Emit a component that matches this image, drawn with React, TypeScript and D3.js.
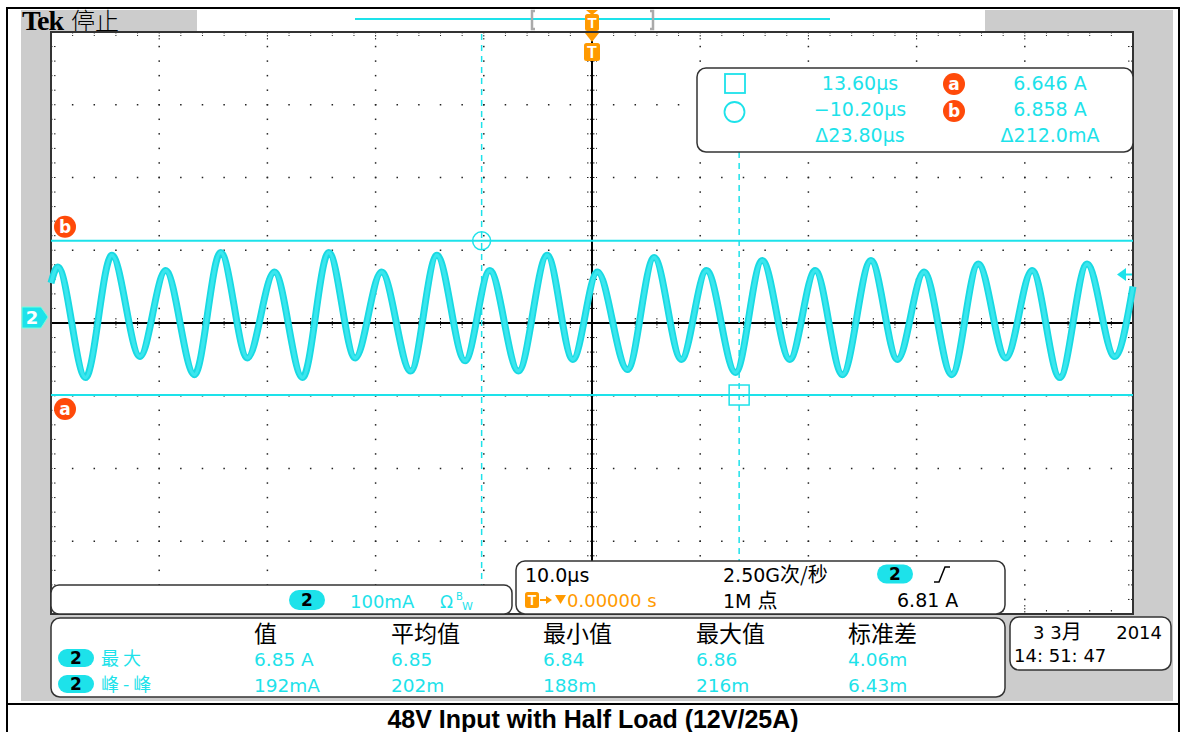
import React from 'react';
import * as d3 from 'd3';

// ---------------- data ----------------
// waveform extrema (time in µs, current in A)
const traceTimeUs = [
  -50, -49.37, -46.81, -44.38, -41.78, -39.41, -36.74, -34.32, -31.85, -29.35,
  -26.75, -24.33, -21.89, -19.45, -16.76, -14.34, -11.73, -9.45, -6.8, -4.14,
  -1.77, 0.5, 3.28, 5.74, 8.26, 10.58, 13.27, 15.73, 18.28, 20.63,
  23.15, 25.78, 28.23, 30.69, 33.25, 35.7, 38.25, 40.68, 43.23, 45.75,
  48.31, 50,
];
const traceAmpA = [
  6.8, 6.822, 6.67, 6.838, 6.699, 6.817, 6.674, 6.842, 6.697, 6.815,
  6.67, 6.842, 6.697, 6.815, 6.679, 6.838, 6.693, 6.817, 6.679, 6.838,
  6.695, 6.815, 6.681, 6.835, 6.695, 6.817, 6.677, 6.831, 6.695, 6.817,
  6.674, 6.831, 6.695, 6.815, 6.674, 6.826, 6.697, 6.817, 6.67, 6.826,
  6.699, 6.795,
];
const cursorTimesUs = [13.6, -10.2]; // square, circle
const cursorAmpsA = [6.646, 6.858]; // a, b
const cursorAmpLetters = ['a', 'b'];
const readoutTimeLabels = ['13.60µs', '−10.20µs', 'Δ23.80µs'];
const readoutAmpLabels = ['6.646 A', '6.858 A', 'Δ212.0mA'];
const measHeaders = ['值', '平均值', '最小值', '最大值', '标准差'];
const measRowLabels = ['最大', '峰-峰'];
const measRows = [
  ['6.85 A', '6.85', '6.84', '6.86', '4.06m'],
  ['192mA', '202m', '188m', '216m', '6.43m'],
];
const timeDomainUs = [-50, 50];
const ampCenterA = 6.745;
const ampPerDivA = 0.1;
const timePerDivUs = 10;
const caption = '48V Input with Half Load (12V/25A)';

// ---------------- styles ----------------
const CYAN = '#1de2ea';
const ORANGE = '#ff9a00';
const RED = '#ff4a0a';
const GREY = '#cccccc';
const SCOPE_FONT = "'DejaVu Sans', sans-serif";
const CJK_FONT = "'Noto Sans CJK SC', sans-serif";

const GX0 = 51, GX1 = 1133, GY0 = 32, GY1 = 614;

export default function App() {
  const x = d3.scaleLinear().domain(timeDomainUs).range([GX0, GX1]);
  const y = d3
    .scaleLinear()
    .domain([ampCenterA - 4 * ampPerDivA, ampCenterA + 4 * ampPerDivA])
    .range([GY1, GY0]);

  const line = d3
    .line<number>()
    .x((_, i) => x(traceTimeUs[i]))
    .y((d) => y(d))
    .curve(d3.curveMonotoneX);

  const majorT = d3.range(timeDomainUs[0], timeDomainUs[1] + 0.001, timePerDivUs);
  const minorT = d3.range(timeDomainUs[0], timeDomainUs[1] + 0.001, timePerDivUs / 5);
  const yLo = ampCenterA - 4 * ampPerDivA;
  const majorA = d3.range(0, 9).map((k) => yLo + k * ampPerDivA);
  const minorA = d3.range(0, 41).map((k) => yLo + (k * ampPerDivA) / 5);

  const dots: JSX.Element[] = [];
  majorT.slice(1, -1).forEach((t, i) => {
    if (Math.abs(t) < 1e-6) return;
    minorA.slice(1, -1).forEach((a, j) => {
      dots.push(<rect key={`v${i}-${j}`} x={x(t) - 0.75} y={y(a) - 0.75} width={1.5} height={1.5} fill="#222" />);
    });
  });
  majorA.slice(1, -1).forEach((a, i) => {
    if (Math.abs(a - ampCenterA) < 1e-6) return;
    minorT.slice(1, -1).forEach((t, j) => {
      dots.push(<rect key={`h${i}-${j}`} x={x(t) - 0.75} y={y(a) - 0.75} width={1.5} height={1.5} fill="#222" />);
    });
  });

  const ticks: JSX.Element[] = [];
  minorT.slice(1, -1).forEach((t, j) => {
    const xx = x(t);
    const major = j % 5 === 4;
    ticks.push(<line key={`tt${j}`} x1={xx} x2={xx} y1={GY0} y2={GY0 + (major ? 9 : 4)} stroke="#222" strokeWidth={1} strokeDasharray="1.5 1.5" />);
    ticks.push(<line key={`tb${j}`} x1={xx} x2={xx} y1={GY1 - (major ? 9 : 4)} y2={GY1} stroke="#222" strokeWidth={1} strokeDasharray="1.5 1.5" />);
    ticks.push(<line key={`tc${j}`} x1={xx} x2={xx} y1={y(ampCenterA) - 5} y2={y(ampCenterA) + 5} stroke="#222" strokeWidth={1} strokeDasharray="1.5 1.5" />);
  });
  minorA.slice(1, -1).forEach((a, j) => {
    const yy = y(a);
    ticks.push(<line key={`tl${j}`} x1={GX0} x2={GX0 + 5} y1={yy} y2={yy} stroke="#222" strokeWidth={1} strokeDasharray="1.5 1.5" />);
    ticks.push(<line key={`tr${j}`} x1={GX1 - 5} x2={GX1} y1={yy} y2={yy} stroke="#222" strokeWidth={1} strokeDasharray="1.5 1.5" />);
    ticks.push(<line key={`tm${j}`} x1={x(0) - 5} x2={x(0) + 5} y1={yy} y2={yy} stroke="#222" strokeWidth={1} strokeDasharray="1.5 1.5" />);
  });

  const xSq = x(cursorTimesUs[0]);
  const xCi = x(cursorTimesUs[1]);
  const yA = y(cursorAmpsA[0]);
  const yB = y(cursorAmpsA[1]);

  const pill = (cx: number, cy: number, w: number, h: number, key: string) => (
    <g key={key}>
      <rect x={cx - w / 2} y={cy - h / 2} width={w} height={h} rx={h / 2} fill={CYAN} />
      <text x={cx} y={cy + 6} textAnchor="middle" fontFamily={SCOPE_FONT} fontWeight="bold" fontSize={17} fill="#000">2</text>
    </g>
  );

  const tBox = (x0: number, y0: number, w: number, h: number) => (
    <g>
      <rect x={x0} y={y0} width={w} height={h} rx={2.5} fill={ORANGE} />
      <text x={x0 + w / 2} y={y0 + h - 3} textAnchor="middle" fontFamily="'Liberation Sans', sans-serif" fontWeight="bold" fontSize={h - 2} fill="#fff">T</text>
    </g>
  );

  const colX = [254, 391, 543, 696, 848];
  const tracePath = line(traceAmpA) || '';

  return (
    <div style={{ position: 'absolute', left: 0, top: 0 }}>
      <svg width={1186} height={732} style={{ display: 'block' }}>
        <rect x={0} y={0} width={1186} height={732} fill="#fff" />
        {/* scope screen background */}
        <rect x={21} y={10} width={1152} height={691} fill={GREY} />
        <rect x={197} y={10} width={788} height={22} fill="#fff" />
        <rect x={GX0} y={GY0} width={GX1 - GX0} height={GY1 - GY0} fill="#fff" />

        {/* header */}
        <text x={22} y={30} fontFamily="'Liberation Serif', serif" fontWeight="bold" fontSize={28} letterSpacing={-1} fill="#000">Tek</text>
        <text x={71} y={30} fontFamily={CJK_FONT} fontWeight={300} fontSize={24} fill="#000">停止</text>

        {/* trigger position bar */}
        <line x1={355} x2={830} y1={19} y2={19} stroke={CYAN} strokeWidth={2} />
        <path d="M535,11 h-3 v18 h3" fill="none" stroke="#aaa" strokeWidth={2.5} />
        <path d="M650,11 h3 v18 h-3" fill="none" stroke="#aaa" strokeWidth={2.5} />
        <path d={`M${x(0) - 6},10 L${x(0) + 6},10 L${x(0)},15 Z`} fill={ORANGE} />
        {tBox(x(0) - 7, 14, 14, 17)}

        {/* grid */}
        {dots}
        {ticks}
        <line x1={GX0} x2={GX1} y1={y(ampCenterA)} y2={y(ampCenterA)} stroke="#000" strokeWidth={2} />
        <line x1={x(0)} x2={x(0)} y1={GY0} y2={GY1} stroke="#000" strokeWidth={2} />
        <rect x={GX0} y={GY0} width={GX1 - GX0} height={GY1 - GY0} fill="none" stroke="#333" strokeWidth={2} />

        {/* trigger marker under top */}
        <path d={`M${x(0) - 7},33 L${x(0) + 7},33 L${x(0)},42 Z`} fill={ORANGE} />
        {tBox(x(0) - 8, 43, 16, 18)}

        {/* cursors */}
        <line x1={GX0} x2={GX1} y1={yB} y2={yB} stroke={CYAN} strokeWidth={2} />
        <line x1={GX0} x2={GX1} y1={yA} y2={yA} stroke={CYAN} strokeWidth={2} />
        <line x1={xCi} x2={xCi} y1={GY0 + 2} y2={GY1} stroke={CYAN} strokeWidth={1.5} strokeDasharray="6 5" />
        <line x1={xSq} x2={xSq} y1={152} y2={GY1} stroke={CYAN} strokeWidth={1.5} strokeDasharray="6 5" />

        {/* waveform */}
        <path d={tracePath} fill="none" stroke="#19d9e2" strokeWidth={7} strokeLinejoin="round" />
        <path d={tracePath} fill="none" stroke="#3ae6ee" strokeWidth={3.5} strokeLinejoin="round" />

        <circle cx={xCi} cy={yB} r={9} fill="none" stroke={CYAN} strokeWidth={1.5} />
        <rect x={xSq - 10} y={yA - 10} width={20} height={20} fill="none" stroke={CYAN} strokeWidth={1.5} />

        {/* cursor level markers */}
        {cursorAmpsA.map((a, i) => (
          <g key={`m${i}`}>
            <circle cx={65} cy={y(a) + (i === 0 ? 14 : -14)} r={11} fill={RED} />
            <text x={65} y={y(a) + (i === 0 ? 14 : -14) + 6} textAnchor="middle" fontFamily={SCOPE_FONT} fontWeight="bold" fontSize={17} fill="#fff">{cursorAmpLetters[i]}</text>
          </g>
        ))}

        {/* channel ground marker */}
        <path d="M22,307 H41 L48,317 L41,328 H22 Z" fill={CYAN} stroke="#7fd" strokeWidth={1} />
        <text x={32} y={324} textAnchor="middle" fontFamily={SCOPE_FONT} fontWeight="bold" fontSize={18} fill="#fff">2</text>

        {/* trigger level arrow */}
        <path d="M1117,274.5 L1126,268 L1126,281 Z" fill={CYAN} />
        <line x1={1126} x2={1132} y1={274.5} y2={274.5} stroke={CYAN} strokeWidth={2} />

        {/* cursor readout box */}
        <rect x={697} y={68} width={436} height={84} rx={9} fill="#fff" stroke="#333" strokeWidth={1.5} />
        <rect x={725} y={74} width={20} height={19} fill="none" stroke={CYAN} strokeWidth={1.8} />
        <circle cx={734.5} cy={112} r={10} fill="none" stroke={CYAN} strokeWidth={1.8} />
        {readoutTimeLabels.map((s, i) => (
          <text key={`rt${i}`} x={860} y={90 + i * 26} textAnchor="middle" fontFamily={SCOPE_FONT} fontSize={19} fill={CYAN}>{s}</text>
        ))}
        {readoutAmpLabels.map((s, i) => (
          <text key={`ra${i}`} x={1050} y={90 + i * 26} textAnchor="middle" fontFamily={SCOPE_FONT} fontSize={19} fill={CYAN}>{s}</text>
        ))}
        {cursorAmpLetters.map((l, i) => (
          <g key={`ri${i}`}>
            <circle cx={954} cy={84 + i * 27} r={11} fill={RED} />
            <text x={954} y={84 + i * 27 + 6} textAnchor="middle" fontFamily={SCOPE_FONT} fontWeight="bold" fontSize={17} fill="#fff">{l}</text>
          </g>
        ))}

        {/* channel readout box */}
        <rect x={51} y={585} width={461} height={29} rx={8} fill="#fff" stroke="#333" strokeWidth={1.5} />
        {pill(307, 600, 36, 20, 'p1')}
        <text x={350} y={608} fontFamily={SCOPE_FONT} fontSize={18} fill={CYAN}>100mA</text>
        <text x={440} y={608} fontFamily={SCOPE_FONT} fontSize={17} fill={CYAN}>Ω</text>
        <text x={456} y={600} fontFamily={SCOPE_FONT} fontSize={10} fill={CYAN}>B</text>
        <text x={462} y={610} fontFamily={SCOPE_FONT} fontSize={11} fill={CYAN}>W</text>

        {/* timebase box */}
        <rect x={516} y={561} width={489} height={53} rx={9} fill="#fff" stroke="#333" strokeWidth={1.5} />
        <text x={525} y={582} fontFamily={SCOPE_FONT} fontSize={19} fill="#000">10.0µs</text>
        <text x={723} y={582} fontFamily={SCOPE_FONT} fontSize={19} fill="#000">2.50G<tspan fontFamily={CJK_FONT} fontSize={20}>次/秒</tspan></text>
        {pill(895, 574, 36, 19, 'p2')}
        <path d="M934,582 L939,582 L945,567 L950,567" fill="none" stroke="#000" strokeWidth={1.5} />
        {tBox(525, 592, 14, 16)}
        <line x1={540} x2={549} y1={600} y2={600} stroke={ORANGE} strokeWidth={2} />
        <path d="M546,596 L552,600 L546,604 Z" fill={ORANGE} />
        <path d="M555,595 L566,595 L560.5,604 Z" fill={ORANGE} />
        <text x={567} y={607} fontFamily={SCOPE_FONT} fontSize={18} fill={ORANGE}>0.00000 s</text>
        <text x={723} y={608} fontFamily={SCOPE_FONT} fontSize={19} fill="#000">1M <tspan fontFamily={CJK_FONT} fontSize={20}>点</tspan></text>
        <text x={897} y={607} fontFamily={SCOPE_FONT} fontSize={19} fill="#000">6.81 A</text>

        {/* measurement box */}
        <rect x={51} y={618} width={954} height={79} rx={9} fill="#fff" stroke="#333" strokeWidth={1.5} />
        {measHeaders.map((h, i) => (
          <text key={`mh${i}`} x={colX[i]} y={642} fontFamily={CJK_FONT} fontSize={23} fill="#000">{h}</text>
        ))}
        {measRowLabels.map((l, r) => (
          <g key={`mr${r}`}>
            {pill(76, 658 + r * 26, 36, 18, `mp${r}`)}
            <text x={101} y={665 + r * 26} fontFamily={CJK_FONT} fontSize={18} letterSpacing={4} fill={CYAN}>{l}</text>
            {measRows[r].map((v, c) => (
              <text key={`mv${r}-${c}`} x={colX[c]} y={666 + r * 26} fontFamily={SCOPE_FONT} fontSize={18.5} fill={CYAN}>{v}</text>
            ))}
          </g>
        ))}

        {/* date box */}
        <rect x={1010} y={617} width={161} height={53} rx={9} fill="#fff" stroke="#333" strokeWidth={1.5} />
        <text x={1033} y={639} fontFamily={SCOPE_FONT} fontSize={18} fill="#000">3 3<tspan fontFamily={CJK_FONT} fontSize={20}>月</tspan></text>
        <text x={1162} y={639} textAnchor="end" fontFamily={SCOPE_FONT} fontSize={18} fill="#000">2014</text>
        <text x={1014} y={662} fontFamily={SCOPE_FONT} fontSize={18} fill="#000">14: 51: 47</text>

        {/* document frame */}
        <line x1={6} x2={1180} y1={8} y2={8} stroke="#000" strokeWidth={2} />
        <line x1={7} x2={7} y1={7} y2={732} stroke="#000" strokeWidth={2} />
        <line x1={1179} x2={1179} y1={7} y2={732} stroke="#000" strokeWidth={2} />
        <line x1={6} x2={1180} y1={704} y2={704} stroke="#000" strokeWidth={2} />
        <text x={593} y={728} textAnchor="middle" fontFamily="'Liberation Sans', Arial, sans-serif" fontWeight="bold" fontSize={25} fill="#000">{caption}</text>
      </svg>
    </div>
  );
}
